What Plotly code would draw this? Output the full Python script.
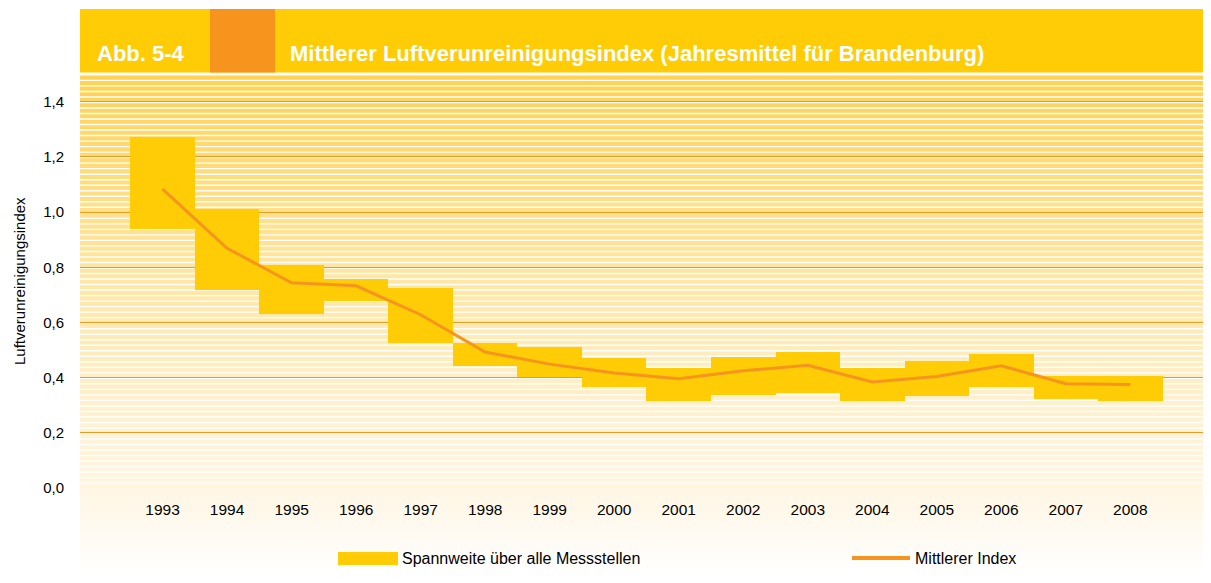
import plotly.graph_objects as go

# ---------------- data ----------------
years = [1993, 1994, 1995, 1996, 1997, 1998, 1999, 2000,
         2001, 2002, 2003, 2004, 2005, 2006, 2007, 2008]
range_low = [0.940, 0.718, 0.632, 0.679, 0.524, 0.443, 0.401, 0.367,
             0.317, 0.338, 0.346, 0.314, 0.332, 0.367, 0.321, 0.314]
range_high = [1.272, 1.011, 0.809, 0.758, 0.725, 0.526, 0.512, 0.472,
              0.436, 0.476, 0.494, 0.436, 0.461, 0.486, 0.407, 0.407]
mean_index = [1.083, 0.869, 0.744, 0.733, 0.628, 0.493, 0.449, 0.417,
              0.396, 0.425, 0.445, 0.384, 0.404, 0.443, 0.378, 0.375]
y_tickvals = [0.0, 0.2, 0.4, 0.6, 0.8, 1.0, 1.2, 1.4]
y_ticktext = ["0,0", "0,2", "0,4", "0,6", "0,8", "1,0", "1,2", "1,4"]
x_ticktext = [str(y) for y in years]

title_label = "Abb. 5-4"
title_text = "Mittlerer Luftverunreinigungsindex (Jahresmittel für Brandenburg)"
y_title = "Luftverunreinigungsindex"
legend_range = "Spannweite über alle Messstellen"
legend_mean = "Mittlerer Index"

# ---------------- styling ----------------
# the page body has an 8px margin, so the figure is placed at (8, 8)
OFF = 8
W, H = 1211 - OFF, 583 - 2 * OFF
ML, MR, MT = 80 - OFF, 0, 75 - OFF
MB = (OFF + H) - 488
PW, PH = W - ML - MR, H - MT - MB
YELLOW = "#FFCC05"
ORANGE = "#F7941D"
FONT = "Liberation Sans, Arial, sans-serif"
YMAX = 1.497


def px_x(p):
    # p: pixel in the reference (page) coordinates
    return (p - OFF - ML) / PW


def px_y(p):
    return (H - MB - (p - OFF)) / PH


def mix(c1, c2, t):
    return "rgb(%d,%d,%d)" % tuple(round(a + (b - a) * t) for a, b in zip(c1, c2))


bar_h = [h - l for h, l in zip(range_high, range_low)]

fig = go.Figure()
fig.add_trace(go.Bar(
    x=years, y=bar_h, base=range_low, width=1.0,
    marker=dict(color=YELLOW, line=dict(width=0)),
    name=legend_range, showlegend=False, hoverinfo="skip"))
fig.add_trace(go.Scatter(
    x=years, y=mean_index, mode="lines",
    line=dict(color=ORANGE, width=3),
    name=legend_mean, showlegend=False))

shapes = []
# striped gradient background in plot area
step = 0.02
gap = 1.4 / (PH / YMAX)
n = int(round(YMAX / step)) + 1
bottom_c = (255, 245, 224)
top_c = (255, 209, 80)
for k in range(n):
    y0 = k * step
    y1 = min((k + 1) * step - gap, YMAX)
    if y0 >= YMAX:
        break
    t = (y0 / YMAX) ** 1.25
    shapes.append(dict(type="rect", xref="paper", yref="y", x0=0, x1=1,
                       y0=y0, y1=y1, fillcolor=mix(bottom_c, top_c, t),
                       line=dict(width=0), layer="below"))
# cream fade below axis
nb = 22
for k in range(nb):
    p0 = 488 + k * 4
    t = k / (nb - 1)
    shapes.append(dict(type="rect", xref="paper", yref="paper", x0=0, x1=1,
                       y0=px_y(p0 + 4), y1=px_y(p0),
                       fillcolor=mix((255, 246, 228), (255, 255, 255), t),
                       line=dict(width=0), layer="below"))
# header band
shapes.append(dict(type="rect", xref="paper", yref="paper", x0=0, x1=1,
                   y0=px_y(72.5), y1=px_y(9), fillcolor=YELLOW,
                   line=dict(width=0)))
shapes.append(dict(type="rect", xref="paper", yref="paper",
                   x0=px_x(210), x1=px_x(275),
                   y0=px_y(72.5), y1=px_y(9), fillcolor=ORANGE,
                   line=dict(width=0)))
# legend symbols
shapes.append(dict(type="rect", xref="paper", yref="paper",
                   x0=px_x(338), x1=px_x(398), y0=px_y(565), y1=px_y(552),
                   fillcolor=YELLOW, line=dict(width=0)))
shapes.append(dict(type="line", xref="paper", yref="paper",
                   x0=px_x(852), x1=px_x(910), y0=px_y(558), y1=px_y(558),
                   line=dict(color=ORANGE, width=4)))

annotations = [
    dict(text="<b>%s</b>" % title_label, xref="paper", yref="paper",
         x=px_x(95), y=px_y(53), xanchor="left", yanchor="middle",
         showarrow=False, font=dict(family=FONT, size=22, color="white")),
    dict(text="<b>%s</b>" % title_text, xref="paper", yref="paper",
         x=px_x(288), y=px_y(53), xanchor="left", yanchor="middle",
         showarrow=False, font=dict(family=FONT, size=22, color="white")),
    dict(text=y_title, xref="paper", yref="paper", x=px_x(19), y=px_y(281),
         xanchor="center", yanchor="middle", textangle=-90, showarrow=False,
         font=dict(family=FONT, size=15, color="black")),
    dict(text=legend_range, xref="paper", yref="paper", x=px_x(400),
         y=px_y(558.5), xanchor="left", yanchor="middle", showarrow=False,
         font=dict(family=FONT, size=16, color="black")),
    dict(text=legend_mean, xref="paper", yref="paper", x=px_x(913),
         y=px_y(558.5), xanchor="left", yanchor="middle", showarrow=False,
         font=dict(family=FONT, size=16, color="black")),
]

fig.update_layout(
    width=W, height=H,
    margin=dict(l=ML, r=MR, t=MT, b=MB, pad=0),
    paper_bgcolor="white", plot_bgcolor="white",
    showlegend=False, bargap=0,
    font=dict(family=FONT, size=15, color="black"),
    shapes=shapes, annotations=annotations,
    xaxis=dict(range=[1991.72, 2009.25], tickmode="array", tickvals=years,
               ticktext=x_ticktext, showgrid=False, zeroline=False,
               showline=False, ticks="outside", ticklen=7,
               tickcolor="rgba(0,0,0,0)", tickfont=dict(size=15.5)),
    yaxis=dict(range=[0, YMAX], tickmode="array", tickvals=y_tickvals,
               ticktext=y_ticktext, showgrid=True, gridcolor=ORANGE,
               gridwidth=1, zeroline=False, showline=False, ticks="outside",
               ticklen=12, tickcolor="rgba(0,0,0,0)", tickfont=dict(size=15)),
)

fig.write_html("out.html")
